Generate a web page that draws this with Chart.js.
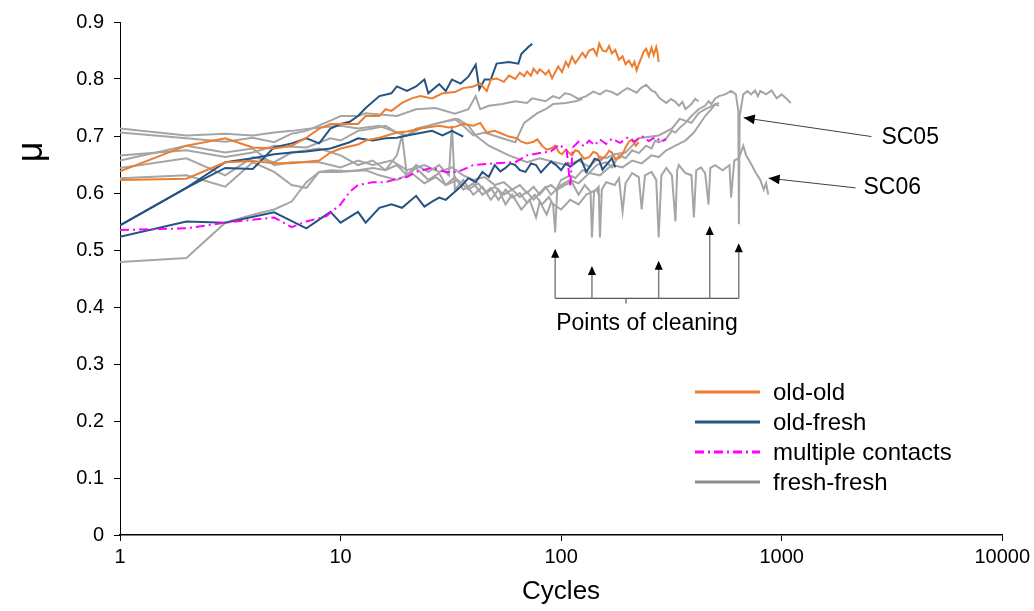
<!DOCTYPE html>
<html>
<head>
<meta charset="utf-8">
<script src="https://cdn.jsdelivr.net/npm/chart.js@4.4.0/dist/chart.umd.min.js"></script>
<style>
  html, body { margin: 0; padding: 0; background: #fff; }
</style>
</head>
<body>
<canvas id="graficoMu" width="1034" height="611"></canvas>
<script>
// ticks do eixo x (log)
const xTicks = [1, 10, 100, 1000, 10000];

// old-old
const oldOldA_ciclos = [1,2,3,4,5,6,7,8,9,10,12,13,15,16,17,19,21,23,26,29,33,36,40,43,46,48,51,55,58,62,65,68,70,73,75,78,80,83,85,88,91,94,97,101,105,108,112,116,120,125,129,134,140,145,149,154,160,165,170,176,183,190,196,203,210,215,220,226,232,237,243,250,257,263,270,274,277];
const oldOldA_mu = [0.638,0.683,0.696,0.680,0.678,0.683,0.697,0.713,0.721,0.721,0.721,0.735,0.735,0.747,0.744,0.758,0.766,0.770,0.766,0.775,0.777,0.784,0.787,0.792,0.779,0.799,0.801,0.795,0.806,0.800,0.811,0.805,0.813,0.806,0.818,0.810,0.817,0.812,0.808,0.815,0.801,0.812,0.822,0.812,0.830,0.822,0.839,0.828,0.836,0.846,0.838,0.850,0.853,0.842,0.862,0.850,0.848,0.858,0.845,0.851,0.834,0.840,0.826,0.832,0.822,0.830,0.815,0.828,0.839,0.848,0.853,0.840,0.855,0.842,0.856,0.845,0.830];
const oldOldB_ciclos = [1,2,3,4,5,6,8,9,10,12,13,15,18,20,23,26,28,31,33,36,40,43,46,50,54,58,63,66,70,75,78,82,86,90,94,98,101,105,112,116,120,127,134,140,145,152,160,165,170,176,183,190,196,203,210,218,225];
const oldOldB_mu = [0.623,0.625,0.654,0.656,0.652,0.652,0.657,0.671,0.678,0.685,0.692,0.697,0.706,0.708,0.713,0.716,0.718,0.715,0.716,0.721,0.718,0.723,0.706,0.709,0.704,0.699,0.696,0.690,0.687,0.690,0.694,0.683,0.676,0.678,0.683,0.671,0.668,0.676,0.666,0.675,0.673,0.660,0.663,0.672,0.670,0.658,0.666,0.674,0.671,0.660,0.661,0.668,0.680,0.690,0.694,0.683,0.689];

// old-fresh
const oldFreshA_ciclos = [1,2,3,4,5,6,7,8,9,10,11,12,13,15,17,18,20,22,24,25,28,30,32,35,38,41,42.6,45,48,51,58,64,66,71,74];
const oldFreshA_mu = [0.543,0.609,0.644,0.642,0.680,0.687,0.696,0.687,0.713,0.721,0.725,0.735,0.749,0.770,0.775,0.787,0.779,0.787,0.799,0.775,0.791,0.779,0.799,0.792,0.804,0.825,0.782,0.799,0.799,0.827,0.830,0.827,0.844,0.856,0.862];
const oldFreshB_ciclos = [1,2,3,5,7,9,10,12,13,15,17,19,22,24,26,28,30,33,35,38,41,44,47,50,53,56,59,62,65,69,73,77,81,85,90,95,100,105,110,117,123,130,136,142,149,154,160,165,170,176];
const oldFreshB_mu = [0.523,0.550,0.548,0.566,0.538,0.567,0.548,0.567,0.548,0.574,0.580,0.574,0.595,0.576,0.585,0.592,0.588,0.602,0.611,0.626,0.619,0.637,0.628,0.649,0.638,0.644,0.652,0.649,0.640,0.637,0.652,0.649,0.636,0.645,0.655,0.649,0.640,0.652,0.646,0.654,0.660,0.637,0.648,0.660,0.657,0.641,0.649,0.655,0.661,0.645];
const oldFreshC_ciclos = [1,2,3,4,5,6,7,9,11,12,14,16,18,20,22,26,29,32,36];
const oldFreshC_mu = [0.543,0.609,0.654,0.661,0.668,0.671,0.673,0.678,0.689,0.696,0.692,0.696,0.697,0.701,0.704,0.709,0.701,0.709,0.699];

// multiple contacts
const multi_ciclos = [1,2,3,5,6,7,8.6,10,11,12,14,16,18,20,22,26,30,34,40,50,62,70,80,90,98,106,110,113,120,127,134,142,150,160,170,185,200,215,232,250,267,285,300];
const multi_mu = [0.535,0.538,0.548,0.557,0.540,0.550,0.559,0.580,0.602,0.614,0.619,0.619,0.625,0.628,0.637,0.644,0.637,0.637,0.649,0.652,0.654,0.666,0.670,0.673,0.685,0.675,0.612,0.680,0.690,0.682,0.692,0.684,0.694,0.686,0.695,0.688,0.697,0.690,0.700,0.691,0.698,0.690,0.694];

// fresh-fresh
const fresh1_ciclos = [1,2,3,4,5,6,7,9,10,12,13,18,22,27,33,38,41,43,47,54,62,70,74,85,92,98,104,110,120,130,140,150,160,170,180,190,200,210,220,230,243,257,267,280,300,315,330,342,355,366,380,390,405,420];
const fresh1_mu = [0.706,0.696,0.690,0.697,0.689,0.704,0.709,0.727,0.735,0.735,0.740,0.735,0.747,0.749,0.739,0.747,0.770,0.747,0.753,0.756,0.761,0.758,0.766,0.761,0.770,0.766,0.775,0.773,0.765,0.770,0.778,0.773,0.780,0.777,0.772,0.779,0.784,0.780,0.776,0.784,0.790,0.780,0.777,0.766,0.758,0.765,0.760,0.753,0.760,0.747,0.752,0.756,0.765,0.761];
const fresh2_ciclos = [1,2,3,4,5,6,8,10,12,15,18,20,23,28,33,36,40,45,54,62,68,78,85,92,105,116,125];
const fresh2_mu = [0.713,0.701,0.704,0.701,0.706,0.709,0.715,0.718,0.713,0.718,0.706,0.701,0.713,0.723,0.730,0.718,0.701,0.706,0.696,0.689,0.723,0.740,0.747,0.756,0.758,0.761,0.765];
const sc05_ciclos = [1,2,3,4,5,6,8,10,12,14,17,20,24,28,32,36,40,45,50,55,60,65,70,75,80,85,90,95,100,110,116,125,134,145,160,170,183,196,210,225,243,257,267,277,300,318,330,342,366,390,420,450,466,480,500,520,555,590,620,636,640,645,670,700,727,758,780,800,850,900,950,1000,1050,1100];
const sc05_mu = [0.657,0.683,0.671,0.678,0.649,0.654,0.654,0.645,0.657,0.649,0.657,0.640,0.649,0.637,0.645,0.631,0.623,0.628,0.614,0.619,0.606,0.614,0.600,0.611,0.597,0.609,0.614,0.606,0.623,0.631,0.626,0.640,0.635,0.649,0.654,0.645,0.666,0.661,0.675,0.670,0.683,0.678,0.692,0.689,0.696,0.709,0.706,0.713,0.723,0.735,0.747,0.753,0.761,0.756,0.766,0.770,0.773,0.779,0.773,0.744,0.545,0.735,0.773,0.779,0.773,0.780,0.770,0.779,0.773,0.780,0.766,0.773,0.766,0.758];
const sc06_ciclos = [1,2,3,4,5,6,8,10,12,14,16,18,20,22,25,28,30,33,36,40,44,48,52,56,60,65,70,76,82,88,92,94,96,104,112,120,128,136,138,141,148,150,153,160,175,183,190,196,210,225,232,240,257,270,277,285,300,318,330,336,342,366,390,400,410,430,450,466,475,500,540,580,590,610,640,670,690,720,760,800,830,850,870];
const sc06_mu = [0.644,0.661,0.631,0.663,0.654,0.671,0.678,0.666,0.649,0.657,0.640,0.649,0.631,0.644,0.623,0.635,0.614,0.628,0.606,0.617,0.597,0.609,0.588,0.606,0.592,0.600,0.583,0.597,0.580,0.593,0.580,0.531,0.606,0.614,0.619,0.597,0.614,0.602,0.522,0.602,0.611,0.522,0.606,0.619,0.614,0.626,0.567,0.617,0.635,0.628,0.571,0.631,0.637,0.623,0.522,0.631,0.644,0.631,0.550,0.640,0.649,0.635,0.631,0.557,0.640,0.645,0.635,0.580,0.644,0.649,0.640,0.649,0.592,0.657,0.661,0.683,0.666,0.654,0.637,0.623,0.606,0.617,0.597];
const fresh5_ciclos = [1,2,3,4,5,6,7,8,10,12,14,16,18,19,20,22,25,28,31,32,33,36,40,44,48,52,56,60,66,72,77,80,86,90,100,110,120,130,145,150];
const fresh5_mu = [0.626,0.631,0.611,0.654,0.637,0.614,0.609,0.637,0.637,0.640,0.644,0.640,0.666,0.701,0.631,0.649,0.637,0.649,0.631,0.718,0.606,0.623,0.597,0.611,0.588,0.606,0.580,0.597,0.571,0.588,0.557,0.585,0.562,0.583,0.571,0.588,0.580,0.597,0.606,0.593];
const fresh6_ciclos = [1,2,3,4,5,6,7,8,9,11,13,15,18,21,24,27,30,34,38,42,46,50,55,60,65,70,75,80,85,90,100,110,120,134,150,170,190,210,232,257,277,300,330,366,400,420,450,480,500,520];
const fresh6_mu = [0.479,0.486,0.548,0.562,0.571,0.585,0.619,0.637,0.640,0.638,0.640,0.631,0.623,0.635,0.617,0.628,0.614,0.623,0.606,0.617,0.600,0.611,0.597,0.606,0.593,0.602,0.588,0.600,0.611,0.597,0.614,0.623,0.617,0.635,0.631,0.649,0.645,0.657,0.652,0.666,0.663,0.675,0.683,0.692,0.706,0.718,0.735,0.747,0.756,0.753];
const fresh7_ciclos = [1,2,3,4,5,7,9,10,12,14,16,18,20,22,28,34,38,41,47,58,70,80,105,120,134,150,160,175,196,210,225,277,318,345,390,420,450,520];
const fresh7_mu = [0.666,0.675,0.663,0.671,0.683,0.680,0.696,0.692,0.709,0.713,0.718,0.706,0.701,0.713,0.723,0.730,0.718,0.701,0.683,0.666,0.654,0.661,0.649,0.657,0.646,0.664,0.661,0.668,0.671,0.683,0.696,0.701,0.713,0.730,0.723,0.740,0.747,0.758];

// anotacoes (coordenadas de dados)
const limpezaCiclos = [94, 138, 277, 472, 639];
const limpezaTopo = [0.502, 0.472, 0.481, 0.542, 0.512];
const limpezaBase = 0.415;
const limpezaMeio = 197;
const limpezaTexto = 'Points of cleaning';
const limpezaTextoCiclo = 245, limpezaTextoMu = 0.370;

const scNomes = ['SC05', 'SC06'];
const scTextoCiclo = [2834, 2350];
const scTextoMu = [0.697, 0.609];
const scSetaDeCiclo = [2555, 2162];
const scSetaDeMu = [0.699, 0.609];
const scSetaAteCiclo = [673, 873];
const scSetaAteMu = [0.732, 0.626];

const legendas = ['old-old', 'old-fresh', 'multiple contacts', 'fresh-fresh'];

const corOldOld = '#ED7D31';
const corOldFresh = '#255382';
const corMulti = '#FF00FF';
const corFresh = '#A5A5A5';
const fonte = "'Liberation Sans', Arial, sans-serif";

function pares(xs, ys) {
    return xs.map((x, i) => ({ x: x, y: ys[i] }));
}

function serie(xs, ys, cor, tracejado) {
    return {
        data: pares(xs, ys),
        borderColor: cor,
        borderWidth: 2,
        borderDash: tracejado || [],
        pointRadius: 0,
        fill: false,
        tension: 0
    };
}

const datasets = [
    serie(multi_ciclos, multi_mu, corMulti, [9, 4, 2, 4]),
    serie(oldOldA_ciclos, oldOldA_mu, corOldOld),
    serie(oldOldB_ciclos, oldOldB_mu, corOldOld),
    serie(oldFreshA_ciclos, oldFreshA_mu, corOldFresh),
    serie(oldFreshB_ciclos, oldFreshB_mu, corOldFresh),
    serie(oldFreshC_ciclos, oldFreshC_mu, corOldFresh),
    serie(fresh1_ciclos, fresh1_mu, corFresh),
    serie(fresh2_ciclos, fresh2_mu, corFresh),
    serie(sc05_ciclos, sc05_mu, corFresh),
    serie(sc06_ciclos, sc06_mu, corFresh),
    serie(fresh5_ciclos, fresh5_mu, corFresh),
    serie(fresh6_ciclos, fresh6_mu, corFresh),
    serie(fresh7_ciclos, fresh7_mu, corFresh)
];

function ponta(ctx, x0, y0, x1, y1, tam) {
    const ang = Math.atan2(y1 - y0, x1 - x0);
    ctx.beginPath();
    ctx.moveTo(x1, y1);
    ctx.lineTo(x1 - tam * Math.cos(ang) + tam * 0.45 * Math.sin(ang), y1 - tam * Math.sin(ang) - tam * 0.45 * Math.cos(ang));
    ctx.lineTo(x1 - tam * Math.cos(ang) - tam * 0.45 * Math.sin(ang), y1 - tam * Math.sin(ang) + tam * 0.45 * Math.cos(ang));
    ctx.closePath();
    ctx.fill();
}

const anotacoes = {
    id: 'anotacoes',
    afterDraw(chart) {
        const ctx = chart.ctx;
        const sx = chart.scales.x, sy = chart.scales.y;
        ctx.save();

        // pontos de limpeza
        const yb = sy.getPixelForValue(limpezaBase);
        ctx.strokeStyle = '#595959';
        ctx.lineWidth = 1.2;
        ctx.beginPath();
        ctx.moveTo(sx.getPixelForValue(limpezaCiclos[0]), yb);
        ctx.lineTo(sx.getPixelForValue(limpezaCiclos[limpezaCiclos.length - 1]), yb);
        const xm = sx.getPixelForValue(limpezaMeio);
        ctx.moveTo(xm, yb);
        ctx.lineTo(xm, yb + 5);
        ctx.stroke();
        limpezaCiclos.forEach((c, i) => {
            const xp = sx.getPixelForValue(c);
            const yt = sy.getPixelForValue(limpezaTopo[i]);
            ctx.strokeStyle = '#808080';
            ctx.lineWidth = 1.5;
            ctx.beginPath();
            ctx.moveTo(xp, yb);
            ctx.lineTo(xp, yt + 6);
            ctx.stroke();
            ctx.fillStyle = '#000';
            ponta(ctx, xp, yb, xp, yt, 9);
        });
        ctx.fillStyle = '#000';
        ctx.font = '23px ' + fonte;
        ctx.textAlign = 'center';
        ctx.textBaseline = 'middle';
        ctx.fillText(limpezaTexto, sx.getPixelForValue(limpezaTextoCiclo), sy.getPixelForValue(limpezaTextoMu));

        // SC05 / SC06
        scNomes.forEach((nome, i) => {
            const x0 = sx.getPixelForValue(scSetaDeCiclo[i]), y0 = sy.getPixelForValue(scSetaDeMu[i]);
            const x1 = sx.getPixelForValue(scSetaAteCiclo[i]), y1 = sy.getPixelForValue(scSetaAteMu[i]);
            ctx.strokeStyle = '#404040';
            ctx.lineWidth = 1;
            ctx.beginPath();
            ctx.moveTo(x0, y0);
            ctx.lineTo(x1, y1);
            ctx.stroke();
            ctx.fillStyle = '#000';
            ponta(ctx, x0, y0, x1, y1, 11);
            ctx.font = '23px ' + fonte;
            ctx.textAlign = 'left';
            ctx.fillText(nome, sx.getPixelForValue(scTextoCiclo[i]), sy.getPixelForValue(scTextoMu[i]));
        });

        // legenda
        const cores = [corOldOld, corOldFresh, corMulti, corFresh];
        const tracos = [[], [], [9, 4, 2, 4], []];
        ctx.font = '24px ' + fonte;
        ctx.textAlign = 'left';
        legendas.forEach((txt, i) => {
            const yl = 392 + i * 30;
            ctx.strokeStyle = i === 3 ? '#8C8C8C' : cores[i];
            ctx.lineWidth = 3;
            ctx.setLineDash(tracos[i]);
            ctx.beginPath();
            ctx.moveTo(695, yl);
            ctx.lineTo(760, yl);
            ctx.stroke();
            ctx.setLineDash([]);
            ctx.fillStyle = '#000';
            ctx.fillText(txt, 773, yl + 1);
        });

        // titulo do eixo y
        ctx.translate(32, 152);
        ctx.rotate(-Math.PI / 2);
        ctx.font = '36px ' + fonte;
        ctx.textAlign = 'center';
        ctx.fillText('μ', 0, 0);
        ctx.restore();
    }
};

new Chart(document.getElementById('graficoMu').getContext('2d'), {
    type: 'line',
    data: { datasets: datasets },
    options: {
        responsive: false,
        animation: false,
        layout: { padding: { top: 15, right: 31, left: 0, bottom: 0 } },
        plugins: { legend: { display: false }, tooltip: { enabled: false } },
        scales: {
            x: {
                type: 'logarithmic',
                min: 1,
                max: 10000,
                afterBuildTicks: s => { s.ticks = xTicks.map(v => ({ value: v })); },
                afterFit: s => { s.height = 76; },
                ticks: {
                    autoSkip: false,
                    maxRotation: 0,
                    padding: 4,
                    color: '#000',
                    font: { size: 20, family: fonte },
                    callback: v => String(v)
                },
                grid: { drawOnChartArea: false, tickLength: 6, color: '#000' },
                border: { color: '#000', width: 1.5 },
                title: {
                    display: true,
                    text: 'Cycles',
                    color: '#000',
                    font: { size: 26, family: fonte },
                    padding: { top: 0, bottom: 4 }
                }
            },
            y: {
                min: 0,
                max: 0.9,
                afterFit: s => { s.width = 120; },
                ticks: {
                    stepSize: 0.1,
                    padding: 10,
                    color: '#000',
                    font: { size: 20, family: fonte },
                    callback: v => (Math.abs(v) < 1e-9 ? '0' : v.toFixed(1))
                },
                grid: { drawOnChartArea: false, tickLength: 6, color: '#000' },
                border: { color: '#000', width: 1 }
            }
        }
    },
    plugins: [anotacoes]
});
</script>
</body>
</html>
